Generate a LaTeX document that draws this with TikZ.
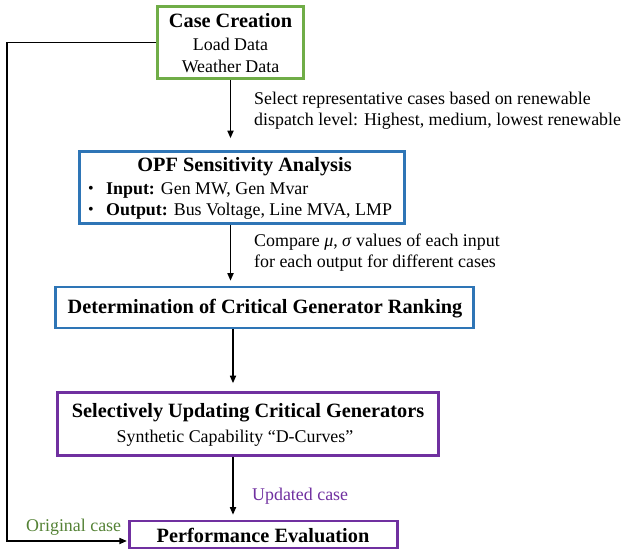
\documentclass[tikz,border=0pt]{standalone}
\usepackage{fontspec}
\setmainfont{Liberation Serif}
\usetikzlibrary{arrows.meta}
\definecolor{cgreen}{RGB}{112,173,71}
\definecolor{cblue}{RGB}{46,117,182}
\definecolor{cpurple}{RGB}{112,48,160}
\definecolor{corig}{RGB}{84,130,53}
\begin{document}
\begin{tikzpicture}[x=1pt,y=-1pt,
  box/.style={draw, line width=2.6pt, fill=white, inner sep=0pt},
  ttl/.style={font=\fontsize{20.3}{24}\selectfont\bfseries, inner sep=0pt},
  txt/.style={font=\fontsize{17.9}{21}\selectfont, inner sep=0pt},
  bul/.style={font=\fontsize{16}{18}\selectfont, inner sep=0pt},
  arr/.style={line width=1.6pt, -{Triangle[length=7.5pt,width=6pt]}}]
\useasboundingbox (0,0) rectangle (621,555);
% boxes
\node[box, draw=cgreen, minimum width=146pt, minimum height=72pt] (cc) at (230.5,42.5) {};
\node[ttl] (cct) at (230.5,21) {Case Creation};
\node[txt] (ccl) at (230.5,44) {Load Data};
\node[txt] (ccw) at (230.5,66) {Weather Data};
\node[box, draw=cblue, minimum width=325pt, minimum height=72pt] (opf) at (242,187.5) {};
\node[ttl] (opft) at (244.5,167) {OPF Sensitivity Analysis};
\node[bul] (b1) at (91,190) {•};
\node[txt, anchor=west] (in) at (106,190) {\textbf{Input:} Gen MW, Gen Mvar};
\node[bul] (b2) at (91,211) {•};
\node[txt, anchor=west] (out) at (106,211) {\textbf{Output:} Bus Voltage, Line MVA, LMP};
\node[box, draw=cblue, minimum width=418pt, minimum height=41pt] (det) at (264.5,307.5) {};
\node[ttl] (dett) at (265,309) {Determination of Critical Generator Ranking};
\node[box, draw=cpurple, minimum width=381pt, minimum height=63pt] (sel) at (248,424) {};
\node[ttl] (selt) at (248,413) {Selectively Updating Critical Generators};
\node[txt] (sels) at (235,438) {Synthetic Capability “D-Curves”};
\node[box, draw=cpurple, minimum width=268pt, minimum height=27pt] (pe) at (263.5,534.5) {};
\node[ttl] (pet) at (263,535) {Performance Evaluation};
% connectors
\coordinate (ax) at (233,0);
\coordinate (lx) at (7,541);
\draw[arr, shorten >=12pt] (cc.south) -- (cc.south |- opf.north);
\draw[arr, shorten >=5pt] (cc.south |- opf.south) -- (cc.south |- det.north);
\draw[arr, shorten >=8pt] (ax |- det.south) -- (ax |- sel.north);
\draw[arr, shorten >=5pt] (ax |- sel.south) -- (ax |- pe.north);
\draw[arr, shorten >=1.3pt] (cc.west) -| (lx) -- (lx -| pe.west);
% labels
\node[txt, anchor=west, align=left] (lab1) at (254,110.5) {Select representative cases based on renewable\\dispatch level: Highest, medium, lowest renewable};
\node[txt, anchor=west, align=left] (lab2) at (254,252.5) {Compare \textit{μ}, \textit{σ} values of each input\\for each output for different cases};
\node[txt, anchor=west, text=cpurple] (lab3) at (252,496) {Updated case};
\node[txt, anchor=west, text=corig] (lab4) at (26,527) {Original case};
\end{tikzpicture}
\end{document}
